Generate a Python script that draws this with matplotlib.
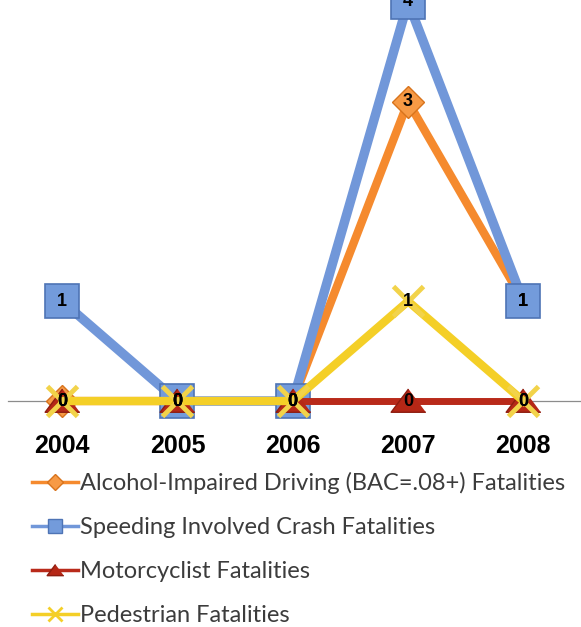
import matplotlib
matplotlib.use("Agg")
import matplotlib.pyplot as plt
from matplotlib.lines import Line2D

# data
years = ["2004", "2005", "2006", "2007", "2008"]
alcohol = [0, 0, 0, 3, 1]
speeding = [1, 0, 0, 4, 1]
motorcycle = [0, 0, 0, 0, 0]
pedestrian = [0, 0, 0, 1, 0]

labels = [
    "Alcohol-Impaired Driving (BAC=.08+) Fatalities",
    "Speeding Involved Crash Fatalities",
    "Motorcyclist Fatalities",
    "Pedestrian Fatalities",
]

c_orange = "#F58A2E"
c_blue = "#7197D9"
c_red = "#B92A1A"
c_yellow = "#F4CF27"

tri = [(0, 0.72), (-1, -0.62), (1, -0.62)]

fig = plt.figure(figsize=(5.81, 6.27), dpi=100)
ax = fig.add_axes([8 / 581, 0.3604, 573 / 581, 0.6396])

x = list(range(len(years)))

ax.plot(x, alcohol, color=c_orange, lw=6, marker="D", ms=16,
        mfc="#F79A45", mec="#D8731C", mew=1, zorder=3, clip_on=False)
ax.plot(x, speeding, color=c_blue, lw=6.8, marker="s", ms=24.5,
        mfc="#739BDB", mec="#4E74B5", mew=1.2, zorder=4, clip_on=False)
ax.plot(x, motorcycle, color=c_red, lw=5, marker=tri, ms=25,
        mfc="#B52716", mec="#8E1D10", mew=1, zorder=5, clip_on=False)
ax.plot(x, pedestrian, color=c_yellow, lw=6, marker="x", ms=22,
        mec="#F2D34A", mew=3.5, zorder=6, clip_on=False)

# data labels
for series in (alcohol, speeding, motorcycle, pedestrian):
    for xi, v in zip(x, series):
        ax.text(xi, v, str(v), ha="center", va="center", fontsize=13,
                fontweight="bold", color="black", zorder=10,
                family=["Liberation Sans", "DejaVu Sans"], clip_on=False)

ax.set_xlim(-0.47, 4.5)
ax.set_ylim(0, 4.02)
ax.set_xticks(x)
ax.set_xticklabels(years, fontsize=18, fontweight="bold",
                   family=["Liberation Sans", "DejaVu Sans"])
ax.tick_params(axis="x", length=0, pad=24)
ax.set_yticks([])
for s in ("top", "left", "right"):
    ax.spines[s].set_visible(False)
ax.spines["bottom"].set_color("#8c8c8c")
ax.spines["bottom"].set_linewidth(0.9)

handles = [
    Line2D([], [], color=c_orange, lw=2.5, marker="D", ms=8, mfc="#F79A45", mec="#D8731C"),
    Line2D([], [], color=c_blue, lw=2.5, marker="s", ms=10, mfc="#739BDB", mec="#4E74B5"),
    Line2D([], [], color=c_red, lw=2.5, marker=tri, ms=12, mfc="#B52716", mec="#8E1D10"),
    Line2D([], [], color=c_yellow, lw=2.5, marker="x", ms=10, mec=c_yellow, mew=2),
]
leg = fig.legend(handles, labels, loc="upper left", bbox_to_anchor=(32 / 581, 1 - 472 / 627),
                 frameon=False, handlelength=1.95, handletextpad=0.08, labelspacing=0.97,
                 prop={"family": ["Lato", "DejaVu Sans"], "size": 17}, borderaxespad=0,
                 borderpad=0)
for t in leg.get_texts():
    t.set_color("#3c3c3c")

fig.savefig("out.png", dpi=100)
